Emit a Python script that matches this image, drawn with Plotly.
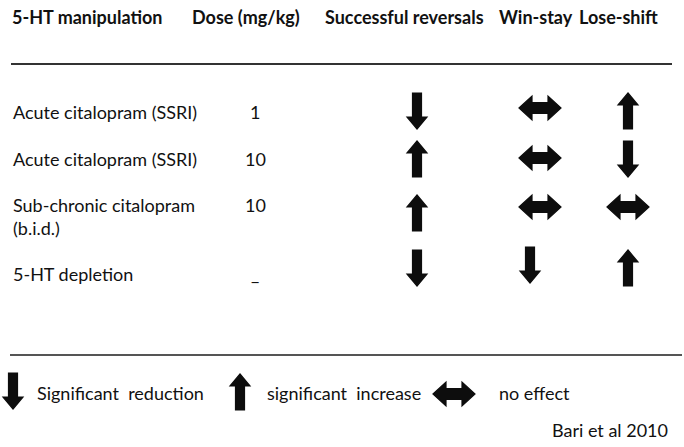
import plotly.graph_objects as go

# ---- data ----
headers = ["5-HT manipulation", "Dose (mg/kg)", "Successful reversals", "Win-stay", "Lose-shift"]
manipulations = ["Acute citalopram (SSRI)", "Acute citalopram (SSRI)", "Sub-chronic citalopram<br>(b.i.d.)", "5-HT depletion"]
doses = ["1", "10", "10", "_"]
reversals = ["down", "up", "up", "down"]
win_stay = ["both", "both", "both", "down"]
lose_shift = ["up", "down", "both", "up"]
legend_items = [("down", "Significant  reduction"), ("up", "significant  increase"), ("both", "no effect")]
source = "Bari et al 2010"

FONT = "Lato"
W, H = 684, 447

fig = go.Figure()
fig.update_layout(
    width=W, height=H, margin=dict(l=0, r=0, t=0, b=0),
    paper_bgcolor="white", plot_bgcolor="white", showlegend=False,
    xaxis=dict(range=[0, W], visible=False, fixedrange=True),
    yaxis=dict(range=[H, 0], visible=False, fixedrange=True),
)

shapes = []
annotations = []

def txt(x, y, s, size=18, bold=False, xanchor="left"):
    annotations.append(dict(x=x, y=y, xref="x", yref="y", text=("<b>%s</b>" % s) if bold else s,
                            showarrow=False, xanchor=xanchor, yanchor="middle", align="left",
                            font=dict(family=FONT, size=size, color="#111111")))

def varrow(cx, cy, h=36, sw=9, hw=20, hh=12, up=True):
    top, bot = cy - h / 2, cy + h / 2
    if up:
        pts = [(cx, top), (cx + hw / 2, top + hh), (cx + sw / 2, top + hh), (cx + sw / 2, bot),
               (cx - sw / 2, bot), (cx - sw / 2, top + hh), (cx - hw / 2, top + hh)]
    else:
        pts = [(cx, bot), (cx + hw / 2, bot - hh), (cx + sw / 2, bot - hh), (cx + sw / 2, top),
               (cx - sw / 2, top), (cx - sw / 2, bot - hh), (cx - hw / 2, bot - hh)]
    return pts

def harrow(cx, cy, w=42, h=24, sh=11, hl=13):
    l, r = cx - w / 2, cx + w / 2
    pts = [(l, cy), (l + hl, cy - h / 2), (l + hl, cy - sh / 2), (r - hl, cy - sh / 2), (r - hl, cy - h / 2),
           (r, cy), (r - hl, cy + h / 2), (r - hl, cy + sh / 2), (l + hl, cy + sh / 2), (l + hl, cy + h / 2)]
    return pts

def add_arrow(kind, cx, cy, scale=1.0):
    if kind == "both":
        pts = harrow(cx, cy, w=42 * scale, h=24 * scale, sh=11 * scale, hl=13 * scale)
    else:
        pts = varrow(cx, cy, h=36 * scale, up=(kind == "up"))
    path = "M " + " L ".join("%.2f,%.2f" % p for p in pts) + " Z"
    shapes.append(dict(type="path", path=path, xref="x", yref="y", fillcolor="#0d0d0d",
                       line=dict(color="#0d0d0d", width=1.2)))

# headers
header_x = [10, 190, 323, 497, 577]
for hx, h in zip(header_x, headers):
    txt(hx, 17, h, size=18, bold=True)

# rules
shapes.append(dict(type="line", x0=11, x1=672, y0=64, y1=64, xref="x", yref="y", line=dict(color="#333333", width=2)))
shapes.append(dict(type="line", x0=10, x1=682, y0=355, y1=355, xref="x", yref="y", line=dict(color="#555555", width=2)))

# rows
row_y = [112, 159, 205, 274]
arrow_y = [[111, 108, 111], [159, 158, 159], [213, 207, 207], [268, 265, 268]]
col_x = [417, 540, 628]
for i, (m, d) in enumerate(zip(manipulations, doses)):
    if "<br>" in m:
        a, b = m.split("<br>")
        txt(11, row_y[i], a)
        txt(11, row_y[i] + 23, b)
    else:
        txt(11, row_y[i], m)
    txt(255, row_y[i], d, xanchor="center")
    for j, eff in enumerate([reversals[i], win_stay[i], lose_shift[i]]):
        cx = col_x[j]
        if eff == "down" and j == 1:
            cx = 530
        add_arrow(eff, cx, arrow_y[i][j])

# legend
leg_arrow_x = [13, 240, 454]
leg_arrow_y = [391, 392, 394]
leg_text_x = [35, 265, 497]
for (kind, label), ax_, ay_, tx in zip(legend_items, leg_arrow_x, leg_arrow_y, leg_text_x):
    add_arrow(kind, ax_, ay_)
    txt(tx, 393, label)

txt(670, 430, source, xanchor="right")

fig.update_layout(shapes=shapes, annotations=annotations)
fig.write_html("out.html", config={"displayModeBar": False, "staticPlot": True},
               post_script="document.body.style.margin='0';document.body.style.overflow='hidden';")
